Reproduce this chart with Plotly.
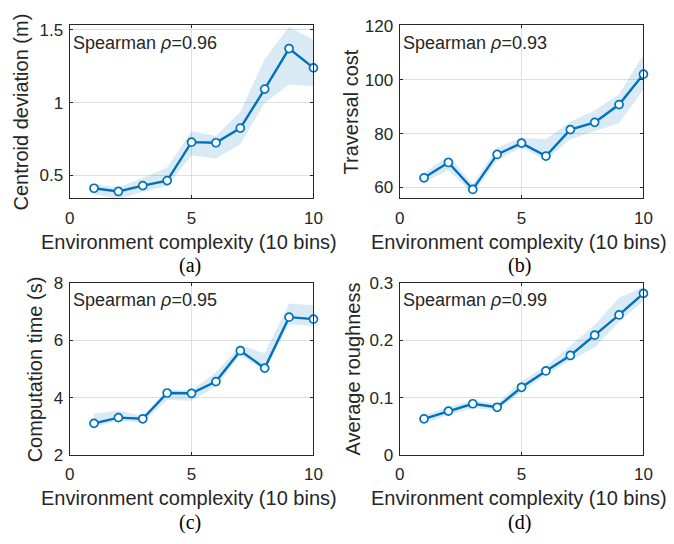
import plotly.graph_objects as go

W, H = 674, 544

bins = [1, 2, 3, 4, 5, 6, 7, 8, 9, 10]
x_ticks = [0, 5, 10]

dev_mean = [0.411, 0.389, 0.429, 0.464, 0.728, 0.724, 0.825, 1.093, 1.372, 1.239]
dev_upper = [0.438, 0.416, 0.482, 0.553, 0.803, 0.770, 0.936, 1.300, 1.520, 1.434]
dev_lower = [0.371, 0.335, 0.387, 0.427, 0.637, 0.615, 0.714, 0.998, 1.124, 1.113]
dev_ticks = [0.5, 1, 1.5]
dev_ticktext = ["0.5", "1", "1.5"]

cost_mean = [63.6, 69.3, 59.3, 72.3, 76.5, 71.7, 81.5, 84.2, 90.8, 102.1]
cost_upper = [65.4, 71.9, 61.2, 74.9, 78.5, 77.9, 84.4, 88.6, 94.6, 109.5]
cost_lower = [61.8, 66.5, 57.6, 70.1, 74.9, 70.1, 77.9, 80.9, 83.9, 96.4]
cost_ticks = [60, 80, 100, 120]

time_mean = [3.10, 3.30, 3.26, 4.16, 4.15, 4.56, 5.64, 5.03, 6.81, 6.74]
time_upper = [3.44, 3.55, 3.36, 4.26, 4.26, 4.88, 5.83, 5.55, 7.29, 7.23]
time_lower = [2.97, 3.19, 3.13, 3.92, 3.89, 4.37, 5.50, 4.93, 6.56, 6.50]
time_ticks = [2, 4, 6, 8]

rough_mean = [0.0629, 0.0764, 0.0893, 0.0831, 0.118, 0.1466, 0.1736, 0.209, 0.2444, 0.282]
rough_upper = [0.0697, 0.0837, 0.0949, 0.0893, 0.1287, 0.155, 0.1905, 0.227, 0.2747, 0.293]
rough_lower = [0.0556, 0.0697, 0.082, 0.078, 0.109, 0.140, 0.165, 0.1876, 0.2326, 0.269]
rough_ticks = [0, 0.1, 0.2, 0.3]
rough_ticktext = ["0", "0.1", "0.2", "0.3"]

x_title = "Environment complexity (10 bins)"

panels = [
    dict(mean=dev_mean, up=dev_upper, lo=dev_lower, ticks=dev_ticks, ticktext=dev_ticktext,
         yrange=[0.343, 1.531], ytitle="Centroid deviation (m)", rho="0.96", cap="(a)",
         px=(66, 315), py=(17, 196), ytx=18),
    dict(mean=cost_mean, up=cost_upper, lo=cost_lower, ticks=cost_ticks,
         ticktext=[str(t) for t in cost_ticks],
         yrange=[56.06, 120.2], ytitle="Traversal cost", rho="0.93", cap="(b)",
         px=(403, 652), py=(17, 196), ytx=355),
    dict(mean=time_mean, up=time_upper, lo=time_lower, ticks=time_ticks,
         ticktext=[str(t) for t in time_ticks],
         yrange=[2, 8], ytitle="Computation time (s)", rho="0.95", cap="(c)",
         px=(66, 315), py=(284, 462), ytx=33),
    dict(mean=rough_mean, up=rough_upper, lo=rough_lower, ticks=rough_ticks, ticktext=rough_ticktext,
         yrange=[0, 0.3], ytitle="Average roughness", rho="0.99", cap="(d)",
         px=(403, 652), py=(284, 462), ytx=357),
]

BLUE = "#0072BD"
TXT = "#262626"
FONT = "Liberation Sans, Arial, sans-serif"

fig = go.Figure()
layout = dict(
    width=W, height=H, margin=dict(l=0, r=0, t=0, b=0),
    paper_bgcolor="white", plot_bgcolor="white", showlegend=False,
    font=dict(family=FONT, size=17, color=TXT),
)
annotations = []

for i, p in enumerate(panels):
    n = "" if i == 0 else str(i + 1)
    xa, ya = "x" + n, "y" + n
    fig.add_trace(go.Scatter(
        x=bins + bins[::-1], y=p["up"] + p["lo"][::-1], xaxis=xa, yaxis=ya,
        fill="toself", fillcolor="rgba(0,114,189,0.15)", line=dict(width=0),
        mode="lines", hoverinfo="skip"))
    fig.add_trace(go.Scatter(
        x=bins, y=p["mean"], xaxis=xa, yaxis=ya, mode="lines+markers",
        line=dict(color=BLUE, width=2.4),
        marker=dict(symbol="circle", size=8, color="white", line=dict(color=BLUE, width=1.7)),
        cliponaxis=False))
    x0, x1 = p["px"]
    y0, y1 = p["py"]
    layout["xaxis" + n] = dict(
        domain=[x0 / W, x1 / W], anchor=ya, range=[0, 10], tickvals=x_ticks,
        ticks="inside", ticklen=3, tickcolor=TXT, showline=True, linecolor=TXT, linewidth=1,
        mirror="ticks", showgrid=True, gridcolor="#dfdfdf", gridwidth=1, zeroline=False,
        tickfont=dict(size=17, color=TXT), ticklabelstandoff=4)
    layout["yaxis" + n] = dict(
        domain=[1 - y1 / H, 1 - y0 / H], anchor=xa, range=p["yrange"], tickvals=p["ticks"],
        ticktext=p["ticktext"], ticks="inside", ticklen=3, tickcolor=TXT, showline=True,
        linecolor=TXT, linewidth=1, mirror="ticks", showgrid=True, gridcolor="#dfdfdf",
        gridwidth=1, zeroline=False, tickfont=dict(size=17, color=TXT), ticklabelstandoff=2)
    cx = (x0 + x1) / 2
    annotations.append(dict(
        text="Spearman <i>ρ</i>=" + p["rho"], xref="paper", yref="paper",
        x=(x0 + 1) / W, y=1 - (y0 + 18) / H, xanchor="left", yanchor="middle",
        showarrow=False, font=dict(family=FONT, size=18, color=TXT)))
    annotations.append(dict(
        text=x_title, xref="paper", yref="paper", x=(cx - 3) / W, y=1 - (y1 + 45) / H,
        xanchor="center", yanchor="middle", showarrow=False,
        font=dict(family=FONT, size=20, color=TXT)))
    annotations.append(dict(
        text=p["ytitle"], xref="paper", yref="paper", x=(p["ytx"] - 2) / W, y=1 - ((y0 + y1) / 2) / H,
        xanchor="center", yanchor="middle", textangle=-90, showarrow=False,
        font=dict(family=FONT, size=20, color=TXT)))
    annotations.append(dict(
        text=p["cap"], xref="paper", yref="paper", x=(cx - 2) / W, y=1 - (y1 + 70) / H,
        xanchor="center", yanchor="middle", showarrow=False,
        font=dict(family="Liberation Serif, Times New Roman, serif", size=20, color="black")))

layout["annotations"] = annotations
fig.update_layout(**layout)
fig.write_html("out.html")
